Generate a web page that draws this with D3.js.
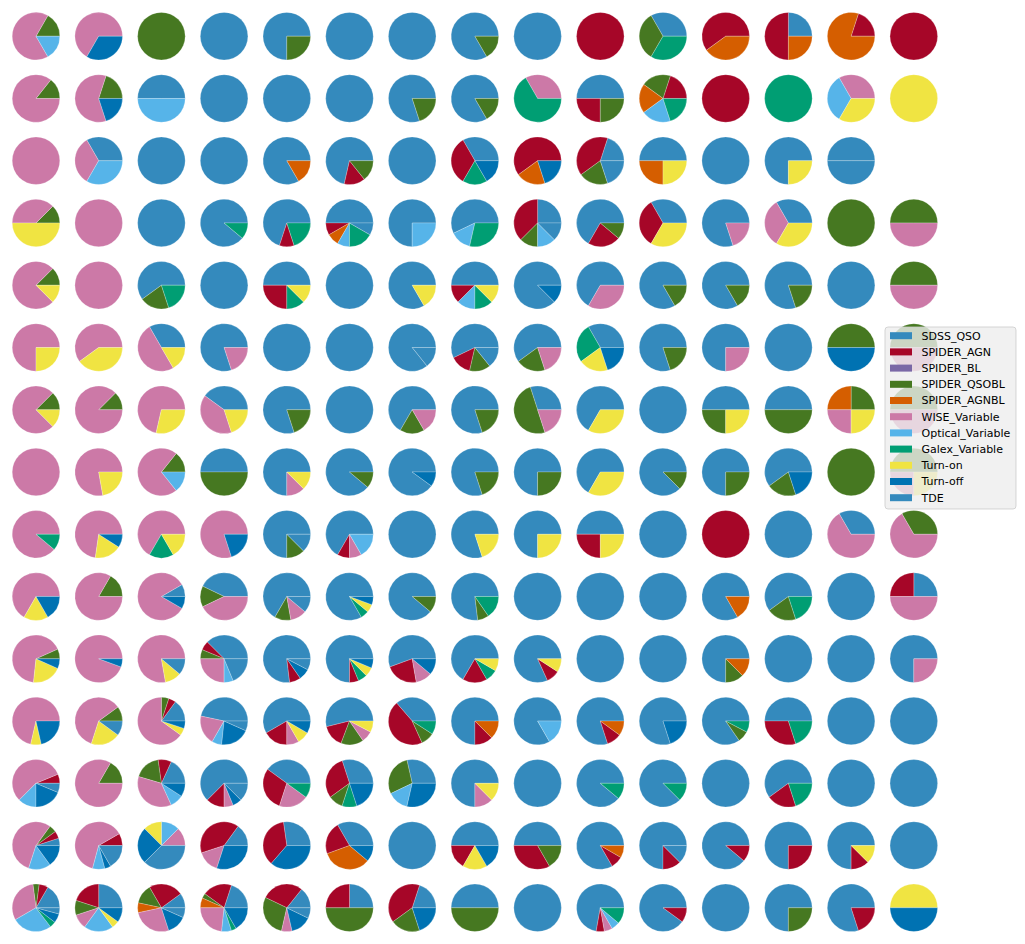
<!DOCTYPE html>
<html>
<head>
<meta charset="utf-8">
<script src="https://cdn.jsdelivr.net/npm/d3@7"></script>
<style>
  html, body { margin: 0; padding: 0; background: #ffffff; }
  svg { display: block; }
</style>
</head>
<body>
<svg id="chart" width="1025" height="944"></svg>
<script>
// ---------------- data ----------------
const categories = ["SDSS_QSO","SPIDER_AGN","SPIDER_BL","SPIDER_QSOBL","SPIDER_AGNBL",
  "WISE_Variable","Optical_Variable","Galex_Variable","Turn-on","Turn-off","TDE"];
const colors = ["#348ABD","#A60628","#7A68A6","#467821","#D55E00",
  "#CC79A7","#56B4E9","#009E73","#F0E442","#0072B2","#348ABD"];

// each pie: counts per category, in the order of `categories`
const row01 = [
  [0,0,0,1,0,4,1,0,0,0,0],[0,0,0,0,0,2,0,0,0,1,0],[0,0,0,1,0,0,0,0,0,0,0],[1,0,0,0,0,0,0,0,0,0,0],
  [3,0,0,1,0,0,0,0,0,0,0],[1,0,0,0,0,0,0,0,0,0,0],[1,0,0,0,0,0,0,0,0,0,0],[5,0,0,1,0,0,0,0,0,0,0],
  [1,0,0,0,0,0,0,0,0,0,0],[0,1,0,0,0,0,0,0,0,0,0],[1,0,0,1,0,0,0,1,0,0,0],[0,3,0,0,2,0,0,0,0,0,0],
  [1,2,0,0,1,0,0,0,0,0,0],[0,1,0,0,4,0,0,0,0,0,0],[0,1,0,0,0,0,0,0,0,0,0]];
const row02 = [
  [0,0,0,1,0,6,0,0,0,0,0],[0,0,0,1,0,3,0,0,0,1,0],[1,0,0,0,0,0,1,0,0,0,0],[1,0,0,0,0,0,0,0,0,0,0],
  [1,0,0,0,0,0,0,0,0,0,0],[1,0,0,0,0,0,0,0,0,0,0],[4,0,0,1,0,0,0,0,0,0,0],[5,0,0,1,0,0,0,0,0,0,0],
  [0,0,0,0,0,1,0,2,0,0,0],[2,1,0,1,0,0,0,0,0,0,0],[0,1,0,1,1,0,1,1,0,0,0],[0,1,0,0,0,0,0,0,0,0,0],
  [0,0,0,0,0,0,0,1,0,0,0],[0,0,0,0,0,1,1,0,1,0,0],[0,0,0,0,0,0,0,0,1,0,0]];
const row03 = [
  [0,0,0,0,0,1,0,0,0,0,0],[1,0,0,0,0,1,1,0,0,0,0],[1,0,0,0,0,0,0,0,0,0,0],[1,0,0,0,0,0,0,0,0,0,0],
  [5,0,0,0,1,0,0,0,0,0,0],[5,1,0,1,0,0,0,0,0,0,0],[1,0,0,0,0,0,0,0,0,0,0],[2,2,0,0,0,0,0,1,0,1,0],
  [0,3,0,0,1,0,0,0,0,1,0],[1,2,0,1,0,0,0,0,0,0,1],[2,0,0,0,1,0,0,0,1,0,0],[1,0,0,0,0,0,0,0,0,0,0],
  [3,0,0,0,0,0,0,0,1,0,0],[1,0,0,0,0,0,0,0,0,0,1]];
const row04 = [
  [0,0,0,1,0,3,0,0,4,0,0],[0,0,0,0,0,1,0,0,0,0,0],[1,0,0,0,0,0,0,0,0,0,0],[8,0,0,0,0,0,0,1,0,0,0],
  [7,1,0,0,0,0,0,2,0,0,0],[6,1,0,0,1,0,1,2,0,0,1],[3,0,0,0,0,0,1,0,0,0,0],[4,0,0,0,0,0,1,2,0,0,0],
  [2,3,0,1,0,0,1,0,0,0,1],[6,2,0,1,0,0,0,0,0,0,0],[1,1,0,0,0,0,0,0,1,0,0],[4,0,0,0,0,1,0,0,0,0,0],
  [1,0,0,0,0,1,0,0,1,0,0],[0,0,0,1,0,0,0,0,0,0,0],[0,0,0,1,0,1,0,0,0,0,0]];
const row05 = [
  [0,0,0,1,0,6,0,0,1,0,0],[0,0,0,0,0,1,0,0,0,0,0],[3,0,0,1,0,0,0,1,0,0,0],[1,0,0,0,0,0,0,0,0,0,0],
  [4,2,0,0,0,0,0,1,1,0,0],[1,0,0,0,0,0,0,0,0,0,0],[5,0,0,0,0,0,0,0,1,0,0],[4,1,0,0,0,0,1,1,1,0,0],
  [7,0,0,0,0,0,0,0,0,1,0],[2,0,0,0,0,1,0,0,0,0,0],[5,0,0,1,0,0,0,0,0,0,0],[5,0,0,1,0,0,0,0,0,0,0],
  [4,0,0,1,0,0,0,0,0,0,0],[1,0,0,0,0,0,0,0,0,0,0],[0,0,0,1,0,1,0,0,0,0,0]];
const row06 = [
  [0,0,0,0,0,3,0,0,1,0,0],[0,0,0,0,0,3,0,0,2,0,0],[2,0,0,0,0,3,0,0,1,0,0],[4,0,0,0,0,1,0,0,0,0,0],
  [1,0,0,0,0,0,0,0,0,0,0],[1,0,0,0,0,0,0,0,0,0,0],[6,0,0,0,0,0,0,0,0,0,1],[4,1,0,1,0,0,0,0,0,0,1],
  [3,0,0,1,0,1,0,0,0,0,0],[5,0,0,0,0,0,0,4,3,3,0],[4,0,0,1,0,0,0,0,0,0,0],[3,0,0,0,0,1,0,0,0,0,0],
  [1,0,0,0,0,0,0,0,0,0,0],[0,0,0,1,0,0,0,0,0,1,0],[0,0,0,1,0,1,0,0,0,0,0]];
const row07 = [
  [0,0,0,1,0,6,0,0,1,0,0],[0,0,0,1,0,7,0,0,0,0,0],[0,0,0,0,0,5,0,0,2,0,0],[2,0,0,0,0,2,0,0,1,0,0],
  [4,0,0,1,0,0,0,0,0,0,0],[1,0,0,0,0,0,0,0,0,0,0],[4,0,0,1,0,1,0,0,0,0,0],[4,0,0,1,0,0,0,0,0,0,0],
  [3,0,0,5,0,2,0,0,0,0,0],[2,0,0,0,0,0,0,0,1,0,0],[1,0,0,0,0,0,0,0,0,0,0],[2,0,0,1,0,0,0,0,1,0,0],
  [1,0,0,1,0,0,0,0,0,0,0],[0,0,0,1,1,1,0,0,1,0,0],[0,0,0,1,0,1,0,0,0,0,0]];
const row08 = [
  [0,0,0,0,0,1,0,0,0,0,0],[0,0,0,0,0,7,0,0,2,0,0],[0,0,0,1,0,5,1,0,0,0,0],[1,0,0,1,0,0,0,0,0,0,0],
  [6,0,0,0,0,1,0,0,1,0,0],[8,0,0,1,0,0,0,0,0,0,0],[9,0,0,0,0,0,0,0,0,1,0],[4,0,0,1,0,0,0,0,0,0,0],
  [3,0,0,1,0,0,0,0,0,0,0],[2,0,0,0,0,0,0,0,1,0,0],[7,0,0,1,0,0,0,0,0,0,0],[3,0,0,1,0,0,0,0,0,0,0],
  [3,0,0,1,0,0,0,0,0,1,0],[0,0,0,1,0,0,0,0,0,0,0],[0,0,0,2,0,1,0,0,1,0,0]];
const row09 = [
  [0,0,0,0,0,8,0,1,0,0,0],[0,0,0,0,0,8,0,0,2,1,0],[0,0,0,0,0,4,0,1,1,0,0],[0,0,0,0,0,4,0,0,0,1,0],
  [6,0,0,1,0,0,0,0,0,0,1],[8,1,0,0,0,1,2,0,0,0,0],[1,0,0,0,0,0,0,0,0,0,0],[4,0,0,0,0,0,0,0,1,0,0],
  [3,0,0,0,0,0,0,0,1,0,0],[2,1,0,0,0,0,0,0,1,0,0],[1,0,0,0,0,0,0,0,0,0,0],[0,1,0,0,0,0,0,0,0,0,0],
  [1,0,0,0,0,0,0,0,0,0,0],[1,0,0,0,0,2,0,0,0,0,0],[0,0,0,1,0,2,0,0,0,0,0]];
const row10 = [
  [0,0,0,0,0,4,0,0,1,1,0],[0,0,0,1,0,5,0,0,0,0,0],[1,0,0,0,0,10,0,0,0,1,0],[3,0,0,1,0,3,0,0,0,0,0],
  [6,0,0,1,0,1,0,0,0,0,1],[15,0,0,0,0,0,0,1,1,1,0],[8,0,0,1,0,0,0,0,0,0,0],[10,0,0,1,0,0,0,2,0,0,0],
  [1,0,0,0,0,0,0,0,0,0,0],[1,0,0,0,0,0,0,0,0,0,0],[1,0,0,0,0,0,0,0,0,0,0],[5,0,0,0,1,0,0,0,0,0,0],
  [3,0,0,1,0,0,0,1,0,0,0],[1,0,0,0,0,0,0,0,0,0,0],[1,1,0,0,0,2,0,0,0,0,0]];
const row11 = [
  [0,0,0,1,0,10,0,0,3,1,0],[0,0,0,0,0,17,0,0,0,1,0],[0,0,0,0,0,7,0,0,1,0,1],[6,1,0,1,0,4,1,0,0,0,3],
  [10,1,0,0,0,0,0,0,0,1,1],[12,1,0,0,0,0,0,1,1,1,0],[5,2,0,0,0,1,0,0,0,1,0],[8,2,0,0,0,0,0,1,1,0,0],
  [9,1,0,0,0,0,0,0,1,0,0],[1,0,0,0,0,0,0,0,0,0,0],[1,0,0,0,0,0,0,0,0,0,0],[6,0,0,1,1,0,0,0,0,0,0],
  [1,0,0,0,0,0,0,0,0,0,0],[1,0,0,0,0,0,0,0,0,0,0],[3,0,0,0,0,1,0,0,0,0,0]];
const row12 = [
  [0,0,0,0,0,10,0,0,1,3,0],[0,0,0,1,0,6,0,0,2,0,1],[3,1,0,1,0,13,0,0,1,1,0],[7,0,0,0,0,3,1,0,0,3,1],
  [7,2,0,0,0,1,0,0,1,1,0],[7,2,0,2,0,1,0,0,1,0,0],[4,5,0,1,0,0,0,1,0,0,0],[6,1,0,0,1,0,0,0,0,0,0],
  [5,0,0,0,0,0,1,0,0,0,0],[8,1,0,0,1,0,0,0,0,0,0],[4,0,0,0,0,0,0,0,0,1,0],[11,0,0,1,0,0,0,1,0,0,0],
  [5,3,0,0,0,0,0,2,0,0,0],[1,0,0,0,0,0,0,0,0,0,0],[1,0,0,0,0,0,0,0,0,0,0]];
const row13 = [
  [0,1,0,0,0,9,2,0,0,3,1],[0,0,0,1,0,5,0,0,0,0,0],[2,1,0,2,0,4,1,0,0,1,0],[10,2,0,0,0,1,0,0,0,1,2],
  [4,3,0,0,0,2,0,1,0,0,0],[3,3,0,1,0,0,0,1,0,2,0],[2,0,0,2,0,0,1,0,0,2,0],[6,0,0,0,0,1,0,0,1,0,0],
  [1,0,0,0,0,0,0,0,0,0,0],[8,0,0,0,0,0,0,1,0,0,0],[7,0,0,0,0,0,0,1,0,0,0],[1,0,0,0,0,0,0,0,0,0,0],
  [3,1,0,0,0,0,0,1,0,0,0],[1,0,0,0,0,0,0,0,0,0,0],[1,0,0,0,0,0,0,0,0,0,0]];
const row14 = [
  [1,1,0,1,0,11,3,0,0,3,0],[0,2,0,0,0,15,2,0,0,1,4],[0,0,0,0,0,1,1,0,1,2,3],[3,8,0,0,0,3,0,0,0,6,0],
  [3,4,0,0,0,0,0,0,0,4,0],[3,2,0,0,3,0,0,0,0,1,0],[1,0,0,0,0,0,0,0,0,0,0],[3,1,0,0,0,0,0,0,1,1,0],
  [3,2,0,1,0,0,0,0,0,0,0],[10,1,0,0,1,0,0,0,0,0,0],[6,1,0,0,0,0,0,0,0,0,1],[8,1,0,0,0,0,0,0,0,0,0],
  [3,1,0,0,0,0,0,0,0,0,0],[6,1,0,0,0,0,0,0,1,0,0],[1,0,0,0,0,0,0,0,0,0,0]];
const row15 = [
  [8,3,0,2,0,15,13,2,0,3,2],[5,4,0,2,0,2,4,0,1,2,0],[3,7,0,4,2,8,0,0,0,4,2],[6,6,0,1,2,7,2,1,0,5,0],
  [2,4,0,4,0,1,0,0,0,2,1],[1,1,0,2,0,0,0,0,0,0,0],[1,2,0,1,0,0,0,0,0,1,0],[1,0,0,1,0,0,0,0,0,0,0],
  [1,0,0,0,0,0,0,0,0,0,0],[13,1,0,0,0,1,1,2,0,0,0],[9,1,0,0,0,0,0,0,0,0,0],[1,0,0,0,0,0,0,0,0,0,0],
  [3,0,0,1,0,0,0,0,0,0,0],[4,1,0,0,0,0,0,0,0,0,0],[0,0,0,0,0,0,0,0,1,1,0]];

const gridRows = [row01,row02,row03,row04,row05,row06,row07,row08,row09,row10,row11,row12,row13,row14,row15];

// ---------------- drawing ----------------
const svg = d3.select("#chart");
svg.append("rect").attr("width", 1025).attr("height", 944).attr("fill", "#ffffff");

const nCols = 15, nRows = gridRows.length;
const x = d3.scalePoint().domain(d3.range(nCols)).range([36, 913.8]);
const y = d3.scalePoint().domain(d3.range(nRows)).range([36.2, 907.8]);
const radius = 23.8;
const color = d3.scaleOrdinal().domain(d3.range(categories.length)).range(colors);

// matplotlib pies start at 3 o'clock and run counter-clockwise
const pie = d3.pie().sort(null).value(d => d.v)
  .startAngle(Math.PI / 2).endAngle(Math.PI / 2 - 2 * Math.PI);
const arc = d3.arc().innerRadius(0).outerRadius(radius);

const cells = [];
gridRows.forEach((row, i) => row.forEach((counts, j) => cells.push({i, j, counts})));

const pies = svg.append("g").attr("class", "pies")
  .selectAll("g.pie").data(cells).join("g")
  .attr("class", "pie")
  .attr("transform", d => `translate(${x(d.j)},${y(d.i)})`);

pies.selectAll("path")
  .data(d => pie(d.counts.map((v, k) => ({v, k}))).filter(a => a.data.v > 0))
  .join("path")
  .attr("d", arc)
  .attr("fill", a => color(a.data.k))
  .attr("stroke", "#ffffff")
  .attr("stroke-opacity", 0.45)
  .attr("stroke-width", 0.5);

// ---------------- legend ----------------
const legend = svg.append("g").attr("class", "legend");
const legX = 885, legY = 327, legW = 131, legH = 182;
legend.append("rect")
  .attr("x", legX).attr("y", legY).attr("width", legW).attr("height", legH)
  .attr("rx", 3).attr("ry", 3)
  .attr("fill", "#eeeeee").attr("fill-opacity", 0.8)
  .attr("stroke", "#cccccc").attr("stroke-opacity", 0.8).attr("stroke-width", 1);

const ly = d3.scalePoint().domain(categories).range([335.7, 497.7]);
const items = legend.selectAll("g.item").data(categories).join("g")
  .attr("class", "item")
  .attr("transform", d => `translate(0,${ly(d)})`);
items.append("rect")
  .attr("x", 890).attr("y", -3.5).attr("width", 22).attr("height", 7)
  .attr("fill", (d, k) => color(k));
items.append("text")
  .attr("x", 921.5).attr("y", 0).attr("dy", "0.36em")
  .attr("font-family", "DejaVu Sans, sans-serif")
  .attr("font-size", 11)
  .attr("fill", "#000")
  .text(d => d);
</script>
</body>
</html>
